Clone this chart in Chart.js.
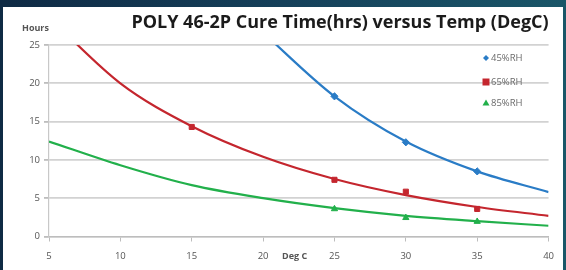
<!DOCTYPE html>
<html>
<head>
<meta charset="utf-8">
<script src="https://cdn.jsdelivr.net/npm/chart.js@4.4.1/dist/chart.umd.min.js"></script>
<style>
  html, body { margin: 0; padding: 0; }
  body { width: 566px; height: 270px; overflow: hidden;
         background: linear-gradient(90deg, #0f2a44 0%, #15405a 50%, #1a5668 100%); position: relative; }
  #panel { position: absolute; left: 3px; top: 7px; width: 560px; height: 263px; background: #ffffff; }
  canvas { display: block; }
</style>
</head>
<body>
<div id="panel"><canvas id="c" width="560" height="263"></canvas></div>
<script>
// ---- data ----
const titleText = 'POLY 46-2P Cure Time(hrs) versus Temp (DegC)';
const yAxisTitle = 'Hours';
const xAxisTitle = 'Deg C';
const seriesNames = ['45%RH', '65%RH', '85%RH'];

// measured points (markers)
const temps45 = [25, 30, 35];
const hours45 = [18.3, 12.3, 8.5];
const temps65 = [15, 25, 30, 35];
const hours65 = [14.3, 7.4, 5.85, 3.6];
const temps85 = [25, 30, 35];
const hours85 = [3.6, 2.45, 1.95];

// trendlines
const trendTemps = [5, 10, 15, 20, 25, 30, 35, 40];
const trend45 = [null, null, null, 26.6, 18.3, 12.4, 8.5, 5.8];
const trend65 = [28.6, 20.0, 14.4, 10.4, 7.5, 5.4, 3.85, 2.7];
const trend85 = [12.4, 9.3, 6.7, 5.0, 3.7, 2.7, 2.0, 1.4];

const colors = ['#2a7cc6', '#c4262e', '#22b04b'];
const shapes = ['rectRot', 'rect', 'triangle'];

function pts(xs, ys) { return xs.map((x, i) => ({ x: x, y: ys[i] })).filter(p => p.y !== null); }

const trendSets = [trend45, trend65, trend85].map((t, i) => ({
  type: 'line', data: pts(trendTemps, t), borderColor: colors[i], borderWidth: 2.2,
  pointRadius: 0, cubicInterpolationMode: 'monotone', fill: false, order: 2
}));
const markerSets = [[temps45, hours45], [temps65, hours65], [temps85, hours85]].map((d, i) => ({
  type: 'scatter', label: seriesNames[i], data: pts(d[0], d[1]), showLine: false,
  pointStyle: shapes[i], pointRadius: 3.6, backgroundColor: colors[i], borderColor: colors[i],
  borderWidth: 1, order: 1
}));

const decor = {
  id: 'decor',
  afterDraw(chart) {
    const ctx = chart.ctx;
    ctx.save();
    // title
    ctx.fillStyle = '#1b1b1b';
    ctx.font = 'bold 18px "Open Sans", "DejaVu Sans", sans-serif';
    ctx.textAlign = 'center'; ctx.textBaseline = 'middle';
    ctx.fillText(titleText, 337, 16);
    // axis titles
    ctx.fillStyle = '#555555';
    ctx.font = 'bold 9px "Open Sans", sans-serif';
    ctx.textAlign = 'left';
    ctx.fillText(yAxisTitle, 19, 21);
    ctx.fillText(xAxisTitle, 279, 249);
    // legend
    const lx = 483, ly = [51, 75, 96];
    ctx.font = '9.5px "Open Sans", sans-serif';
    for (let i = 0; i < 3; i++) {
      ctx.fillStyle = colors[i];
      ctx.beginPath();
      if (i === 0) { ctx.moveTo(lx, ly[i]-3); ctx.lineTo(lx+3, ly[i]); ctx.lineTo(lx, ly[i]+3); ctx.lineTo(lx-3, ly[i]); }
      else if (i === 1) { ctx.rect(lx-3.5, ly[i]-3.5, 7, 7); }
      else { ctx.moveTo(lx, ly[i]-3.5); ctx.lineTo(lx+3.5, ly[i]+2.5); ctx.lineTo(lx-3.5, ly[i]+2.5); }
      ctx.closePath(); ctx.fill();
      ctx.fillStyle = '#6a6a6a';
      ctx.textAlign = 'left';
      ctx.fillText(seriesNames[i], lx + 5, ly[i] + 0.5);
    }
    ctx.restore();
  }
};

new Chart(document.getElementById('c'), {
  type: 'scatter',
  data: { datasets: [...trendSets, ...markerSets] },
  options: {
    responsive: false, animation: false,
    layout: { padding: { top: 38, right: 12, left: 0, bottom: 0 } },
    plugins: { legend: { display: false }, tooltip: { enabled: false }, title: { display: false } },
    scales: {
      x: {
        type: 'linear', min: 5, max: 40,
        ticks: { stepSize: 5, color: '#555555', font: { size: 9.5, family: '"Open Sans", sans-serif' }, padding: 9, maxRotation: 0 },
        grid: { drawOnChartArea: false, drawTicks: true, tickLength: 5, color: '#bdbdbd', lineWidth: 1 },
        border: { display: true, color: '#bdbdbd', width: 1.2 },
        afterFit(s) { s.height = 33.5; }
      },
      y: {
        min: 0, max: 25,
        ticks: { stepSize: 5, color: '#555555', font: { size: 9.5, family: '"Open Sans", sans-serif' }, padding: 4 },
        grid: { color: '#d2d2d2', lineWidth: 1.8, tickLength: 5, tickColor: '#bdbdbd' },
        border: { display: true, color: '#c8c8c8', width: 1.2 },
        afterFit(s) { s.width = 46; }
      }
    }
  },
  plugins: [decor]
});
</script>
</body>
</html>
